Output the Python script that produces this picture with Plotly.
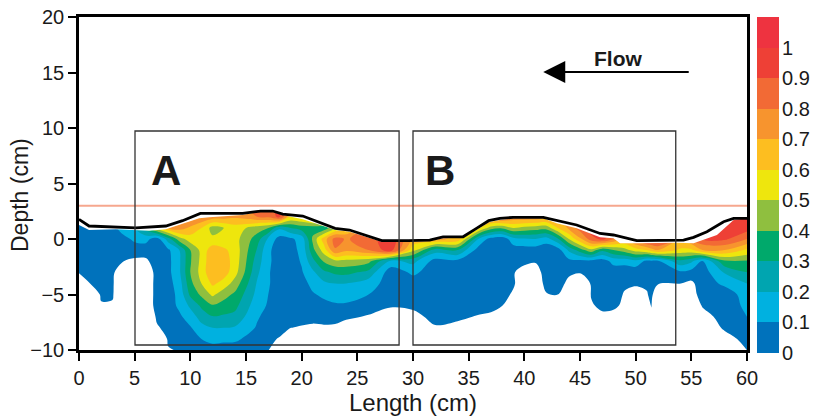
import numpy as np
import plotly.graph_objects as go

x_cm = [0,1,2,3,4,5,6,7,8,9,10,11,12,13,14,16,17,18,19,20,21,22,23,24,26,28,30,32,34,36,37,38,39,40,41,42,43,44,45,46,47,48,49,50,51,51.4,52,54,55,56,58,60]
y_cm = [3,2,1,0,-1,-2,-3,-4,-5,-6,-7,-8,-9,-10]

# concentration read column by column (one list per x_cm value, top to bottom along y_cm)
conc_columns = [
 [.05,.05,.05,.05,.05,.04,.01,-.1,-.3,-.3,-.3,-.3,-.3,-.3],
 [.05,.05,.05,.05,.05,.05,.03,.001,-.2,-.3,-.3,-.3,-.3,-.3],
 [.05,.05,.05,.05,.05,.05,.05,.04,.03,-.02,-.3,-.3,-.3,-.3],
 [.06,.06,.06,.05,.05,.05,.05,.04,.03,-.03,-.3,-.3,-.3,-.3],
 [.15,.15,.15,.07,.05,.001,-.2,-.3,-.3,-.3,-.3,-.3,-.3,-.3],
 [.2,.2,.2,.12,.05,-.02,-.2,-.3,-.3,-.3,-.3,-.3,-.3,-.3],
 [.35,.35,.35,.13,.05,-.02,-.1,-.1,-.1,-.1,-.2,-.3,-.3,-.3],
 [.6,.6,.55,.05,.05,.05,.05,.05,.05,.05,.03,-.02,-.2,-.3],
 [.8,.8,.7,.25,.08,.07,.07,.06,.05,.05,.05,.05,.02,-.01],
 [.85,.85,.75,.45,.2,.18,.18,.15,.13,.12,.08,.05,.05,.01],
 [.9,.85,.68,.55,.4,.39,.4,.37,.32,.22,.15,.09,.05,.02],
 [.85,.8,.6,.55,.53,.53,.54,.5,.42,.32,.24,.17,.1,.04],
 [.8,.75,.46,.52,.66,.69,.69,.62,.52,.39,.295,.2,.13,.06],
 [.78,.74,.5,.53,.62,.65,.65,.56,.44,.36,.285,.2,.12,.06],
 [.75,.72,.55,.54,.56,.56,.54,.46,.38,.33,.27,.19,.12,.05],
 [.85,.8,.45,.35,.29,.25,.22,.19,.17,.14,.11,.09,.05,.02],
 [.85,.82,.4,.18,.12,.12,.11,.11,.1,.09,.07,.05,.03,.005],
 [.95,.93,.22,.06,.05,.05,.05,.05,.05,.05,.05,.05,-.01,-.1],
 [.7,.6,.3,.08,.07,.05,.05,.05,.05,.05,.05,.002,-.1,-.2],
 [.7,.62,.35,.14,.12,.11,.09,.06,.05,.05,.04,-.01,-.1,-.2],
 [.75,.7,.35,.42,.37,.27,.18,.13,.09,.06,.05,-.03,-.1,-.2],
 [.85,.8,.33,.65,.55,.41,.28,.18,.12,.07,.05,-.02,-.1,-.2],
 [.6,.6,.5,.84,.79,.47,.32,.2,.13,.09,.04,-.02,-.1,-.2],
 [.6,.6,.58,.79,.72,.47,.33,.2,.13,.09,.02,-.05,-.1,-.2],
 [.85,.85,.85,.85,.8,.43,.27,.15,.1,.05,-.01,-.1,-.2,-.3],
 [.98,.98,.98,.98,.96,.17,.04,.05,.05,.01,-.05,-.1,-.2,-.3],
 [.7,.7,.7,.68,.53,.23,.12,.05,.05,.02,-.03,-.1,-.2,-.3],
 [.75,.75,.75,.72,.25,.06,.05,.05,.05,.05,.03,-.01,-.1,-.2],
 [.7,.7,.7,.68,.3,.07,.05,.05,.05,.05,.02,-.03,-.1,-.2],
 [.8,.8,.6,.17,.04,.05,.05,.05,.05,.04,-.01,-.1,-.2,-.3],
 [.82,.82,.45,.06,.05,.05,.05,.05,.05,.03,-.02,-.1,-.2,-.3],
 [.85,.85,.42,.03,.05,.05,.05,.05,.05,.005,-.1,-.2,-.3,-.3],
 [.78,.78,.5,.16,.05,.04,.01,.02,-.02,-.1,-.2,-.3,-.3,-.3],
 [.78,.78,.47,.19,.05,.03,-.05,-.1,-.2,-.3,-.3,-.3,-.3,-.3],
 [.78,.78,.45,.2,.05,.01,-.05,-.1,-.2,-.3,-.3,-.3,-.3,-.3],
 [.75,.75,.44,.16,.02,.05,.05,.05,-.01,-.1,-.2,-.3,-.3,-.3],
 [.7,.7,.6,.28,.05,.05,.05,.05,.001,-.1,-.2,-.3,-.3,-.3],
 [.75,.75,.72,.5,.22,.07,.02,-.03,-.1,-.2,-.3,-.3,-.3,-.3],
 [.85,.85,.85,.68,.35,.07,.02,-.2,-.3,-.3,-.3,-.3,-.3,-.3],
 [.98,.98,.98,.85,.47,.07,.05,.02,.01,-.02,-.2,-.3,-.3,-.3],
 [.98,.98,.98,.93,.32,.05,.05,.05,.05,.04,-.04,-.2,-.3,-.3],
 [.9,.9,.9,.8,.4,.13,.05,.05,.05,.03,-.05,-.2,-.3,-.3],
 [.8,.8,.8,.7,.46,.13,.05,.02,-.01,-.03,-.2,-.3,-.3,-.3],
 [.85,.85,.85,.85,.55,.17,.03,.02,-.06,-.1,-.2,-.3,-.3,-.3],
 [.98,.98,.98,.98,.6,.07,.05,.02,-.01,-.1,-.2,-.3,-.3,-.3],
 [.98,.98,.98,.98,.65,.07,.05,.05,.03,.01,-.05,-.2,-.3,-.3],
 [.98,.98,.98,.98,.7,.08,.05,.01,-.1,-.2,-.3,-.3,-.3,-.3],
 [.72,.72,.72,.72,.58,.27,.08,.003,-.1,-.2,-.3,-.3,-.3,-.3],
 [.8,.8,.8,.8,.58,.22,.06,-.02,-.05,-.1,-.2,-.3,-.3,-.3],
 [.9,.9,.9,.9,.7,.09,.05,.05,.05,.01,-.05,-.1,-.2,-.3],
 [.98,.98,.98,.92,.7,.38,.21,.12,.05,.05,.05,.02,-.05,-.1],
 [1.02,1.02,.95,.8,.58,.39,.3,.2,.14,.12,.1,.07,.04,.001],
]

# black surface profile
surface_x = [0,0.9,5.1,7.8,9.3,10.9,14.7,16.3,17.4,18.3,20.1,21.9,23,24.3,26,27.2,29.6,31.5,32.7,34.5,35.7,36.8,37.8,39,41.7,42.9,44.7,46.8,48,50.1,54.3,55.2,56.4,57.9,58.8,60]
surface_y = [1.77,1.17,1.0,1.17,1.65,2.31,2.3,2.52,2.52,2.25,2.07,1.41,.96,.81,.27,-.15,-.15,-.1,.2,.2,.96,1.65,1.86,1.95,1.95,1.65,1.26,.5,.36,-.15,-.1,.15,.66,1.56,1.86,1.86]
# top edge of the coloured field
field_x = [0,0.9,3.3,6.3,7.8,9.3,10.8,11.7,14.7,16.2,17.4,18.3,20.1,21.9,23,24.3,26,27.2,30,31.5,32.7,34.5,35.7,36.8,37.8,39,41.7,42.9,44.7,46.8,48,48.6,50.1,53.7,55.2,57.3,58.8,60]
field_y = [1.26,.8,.87,.75,.87,1.4,1.86,1.95,2.16,2.46,2.46,2.16,1.77,1.2,.81,.66,.15,-.24,-.24,-.18,.06,.12,.81,1.5,1.71,1.86,1.86,1.41,.96,.15,.06,-.39,-.39,-.33,-.39,.36,1.71,1.86]

levels = [0,.1,.2,.3,.4,.5,.6,.7,.8,.9,1.0,1.1]
level_labels = ["0","0.1","0.2","0.3","0.4","0.5","0.6","0.7","0.8","0.9","1"]
band_colors = ["#0072BC","#00B1E0","#00A5B0","#00A96B","#8FBF3F","#EEE60D","#FDBE20","#F7942E","#F26A35","#EE4036","#EE3340"]

x_ticks = [0,5,10,15,20,25,30,35,40,45,50,55,60]
y_ticks = [-10,-5,0,5,10,15,20]

all_colors = ["#FFFFFF"] + band_colors
n = len(all_colors)
scale = []
for i, c in enumerate(all_colors):
    scale += [[i / n, c], [(i + 1) / n, c]]

Z = np.array(conc_columns).T
fig = go.Figure()
fig.add_trace(go.Contour(
    x=x_cm, y=y_cm, z=Z, colorscale=scale, showscale=False, autocontour=False,
    zmin=-.1, zmax=1.1,
    contours=dict(start=-.1, end=1.1, size=.1, coloring="fill", showlines=False),
    line=dict(width=0, smoothing=1), hoverinfo="skip", xaxis="x", yaxis="y"))
# white mask above the coloured field
fig.add_trace(go.Scatter(
    x=field_x + [60, 0], y=field_y + [3.3, 3.3], mode="lines", fill="toself",
    fillcolor="white", line=dict(width=0, color="white"), hoverinfo="skip", xaxis="x", yaxis="y"))
fig.add_trace(go.Scatter(x=[0, 60], y=[3, 3], mode="lines", line=dict(color="#F6A78E", width=2), xaxis="x", yaxis="y"))
fig.add_trace(go.Scatter(x=surface_x, y=surface_y, mode="lines", line=dict(color="black", width=2.8), xaxis="x", yaxis="y"))
# discrete scale bar
bar_z = [[(levels[i] + levels[i + 1]) / 2] for i in range(len(levels) - 1)]
fig.add_trace(go.Heatmap(x=[0, 1], y=levels, z=bar_z, colorscale=scale, zmin=-.1, zmax=1.1,
                         showscale=False, hoverinfo="skip", xaxis="x2", yaxis="y2"))

font = "Liberation Sans"
ink = "#1a1a1a"
W, H = 735, 336
fig.update_layout(
    width=814, height=416, autosize=False, showlegend=False,
    margin=dict(l=79, r=0, t=17, b=63, autoexpand=False), paper_bgcolor="white", plot_bgcolor="white",
    font=dict(family=font, size=20, color=ink),
    xaxis=dict(domain=[0, 668 / W], range=[0, 60], tickvals=x_ticks, ticks="outside", ticklen=8, tickwidth=2,
               tickcolor="black", showgrid=False, zeroline=False, showline=True, linecolor="black", linewidth=2.5,
               mirror=True, anchor="y", tickfont=dict(size=20, color=ink),
               title=dict(text="Length (cm)", font=dict(size=24, color=ink), standoff=3)),
    yaxis=dict(domain=[3 / H, 1], range=[-10, 20], tickvals=y_ticks, ticks="outside", ticklen=8, tickwidth=2,
               tickcolor="black", showgrid=False, zeroline=False, showline=True, linecolor="black", linewidth=2.5,
               mirror=True, anchor="x", tickfont=dict(size=20, color=ink)),
    xaxis2=dict(domain=[678 / W, 700 / W], range=[0, 1], showticklabels=False, ticks="", showgrid=False,
                zeroline=False, showline=False, anchor="y2"),
    yaxis2=dict(domain=[0, 1], range=[0, 1.1], side="right", anchor="x2", tickvals=levels[:-1], ticktext=level_labels,
                ticks="", ticklabelstandoff=2, showgrid=False, zeroline=False, showline=False,
                tickfont=dict(size=20, color=ink)),
    shapes=[
        dict(type="rect", xref="x", yref="y", x0=5.03, x1=28.75, y0=-9.55, y1=9.73, line=dict(color="#333333", width=1.3)),
        dict(type="rect", xref="x", yref="y", x0=30, x1=53.6, y0=-9.55, y1=9.73, line=dict(color="#333333", width=1.3)),
    ],
    annotations=[
        dict(x=41.7, y=15.05, ax=54.9, ay=15.05, xref="x", yref="y", axref="x", ayref="y", text="", showarrow=True,
             arrowhead=2, arrowsize=2.2, arrowwidth=2, arrowcolor="black", standoff=0),
        dict(x=48.4, y=16.3, xref="x", yref="y", text="<b>Flow</b>", showarrow=False, font=dict(size=21, color=ink)),
        dict(x=7.77, y=6.2, xref="x", yref="y", text="<b>A</b>", showarrow=False, font=dict(size=42, color=ink)),
        dict(x=32.4, y=6.2, xref="x", yref="y", text="<b>B</b>", showarrow=False, font=dict(size=42, color=ink)),
        dict(x=(20 - 79) / W, y=(353 - 195) / H, xref="paper", yref="paper", xanchor="center", yanchor="middle",
             text="Depth (cm)", textangle=-90, showarrow=False, font=dict(size=23, color=ink)),
    ],
)
fig.write_html("out.html", config={"displayModeBar": False},
               post_script="document.body.style.margin='0';document.body.style.overflow='hidden';")
